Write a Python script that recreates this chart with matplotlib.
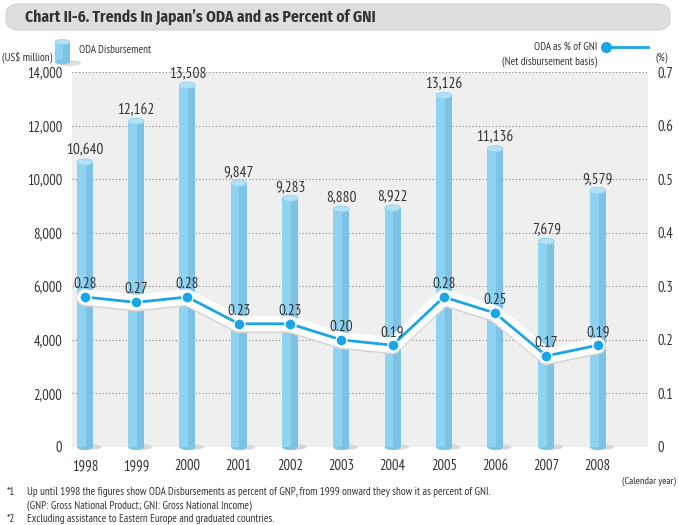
import numpy as np
import matplotlib.pyplot as plt
from matplotlib.patches import Ellipse, FancyBboxPatch, Rectangle

plt.rcParams['font.family'] = ['PT Sans Narrow', 'DejaVu Sans']

years = ['1998', '1999', '2000', '2001', '2002', '2003', '2004', '2005', '2006', '2007', '2008']
oda = [10640, 12162, 13508, 9847, 9283, 8880, 8922, 13126, 11136, 7679, 9579]
pct = [0.28, 0.27, 0.28, 0.23, 0.23, 0.20, 0.19, 0.28, 0.25, 0.17, 0.19]
pct_labels = ['0.28', '0.27', '0.28', '0.23', '0.23', '0.20', '0.19', '0.28', '0.25', '0.17', '0.19']

W, H = 679, 525
txt = '#333333'
fig = plt.figure(figsize=(W / 100, H / 100), dpi=100)
fig.patch.set_facecolor('white')

# title box
tb = FancyBboxPatch((6 / W, 1 - 30 / H), 664 / W, 26 / H, boxstyle='round,pad=0,rounding_size=0.02',
                    transform=fig.transFigure, facecolor='#dedede', edgecolor='#d0d0d0', lw=0.8)
fig.patches.append(tb)
fig.text(25 / W, 1 - 17 / H, "Chart II-6. Trends In Japan\u2019s ODA and as Percent of GNI",
         fontsize=11.2, fontweight='bold', color=txt, va='center', family=['Fira Sans Condensed', 'DejaVu Sans'])

ax = fig.add_axes([72 / W, 1 - 447 / H, 576 / W, 375 / H])
ax.set_facecolor('#efefef')
x = np.arange(len(years))
ax.set_xlim(-0.25, 10.98)
ax.set_ylim(0, 14000)
for s in ax.spines.values():
    s.set_visible(False)
ax.set_yticks(np.arange(0, 14001, 2000))
ax.set_yticklabels(['0'] + ['{:,}'.format(v) for v in range(2000, 14001, 2000)])
ax.tick_params(axis='y', length=0, pad=7, labelsize=10.5, labelcolor=txt)
ax.set_xticks(x)
ax.set_xticklabels(years)
ax.tick_params(axis='x', length=0, pad=9, labelsize=10.5, labelcolor=txt)
ax.grid(axis='y', linestyle=(0, (1, 2)), color='#888888', lw=0.8)
ax.set_axisbelow(True)

bw = 0.31
eh = 230
for xi, v in zip(x, oda):
    ax.add_patch(Ellipse((xi + 0.12, 0), bw * 1.3, eh * 0.9, facecolor='#d8d8d8', edgecolor='none',
                         zorder=2, clip_on=False))
    ax.add_patch(Ellipse((xi, 0), bw, eh, facecolor='#7fc4e6', edgecolor='none', zorder=3, clip_on=False))
    ax.add_patch(Rectangle((xi - bw / 2, 0), bw, v, facecolor='#8fd3f2', edgecolor='none', zorder=3))
    ax.add_patch(Rectangle((xi + bw * 0.05, 0), bw * 0.45, v, facecolor='#7dc2e4', edgecolor='none', zorder=3))
    ax.add_patch(Ellipse((xi, v), bw, eh, facecolor='#b3e2f7', edgecolor='#8fd3f2', lw=0.6, zorder=4))
    ax.text(xi, v + 170, '{:,}'.format(v), ha='center', va='bottom', fontsize=11, color=txt, zorder=5)

ax2 = ax.twinx()
ax2.set_ylim(0, 0.7)
for s in ax2.spines.values():
    s.set_visible(False)
ax2.set_yticks(np.arange(0, 0.71, 0.1))
ax2.set_yticklabels(['0', '0.1', '0.2', '0.3', '0.4', '0.5', '0.6', '0.7'])
ax2.tick_params(axis='y', length=0, pad=7, labelsize=10.5, labelcolor=txt)
ax2.plot(x, np.array(pct) - 0.0025, color='#d6d6d6', lw=11.5, solid_capstyle='round', solid_joinstyle='round',
         zorder=1)
ax2.plot(x, pct, color='white', lw=11, solid_capstyle='round', solid_joinstyle='round', zorder=2)
ax2.plot(x, pct, color='#1aa6e6', lw=2, marker='o', ms=8, mfc='#1aa6e6', mec='white', mew=1, zorder=3)
for xi, p, lab in zip(x, pct, pct_labels):
    ax2.text(xi, p + 0.011, lab, ha='center', va='bottom', fontsize=11, color=txt, zorder=5)

# axis captions
fig.text(2 / W, 1 - 58 / H, '(US$ million)', fontsize=8, color=txt, va='center')
fig.text(655 / W, 1 - 58 / H, '(%)', fontsize=8, color=txt, va='center')
fig.text(676 / W, 1 - 481 / H, '(Calendar year)', fontsize=7.5, color=txt, va='center', ha='right')

lax = fig.add_axes([0, 0, 1, 1], facecolor='none')
lax.set_xlim(0, W)
lax.set_ylim(H, 0)
lax.axis('off')

# legend: cylinder
lax.add_patch(Ellipse((70, 63), 22, 6, facecolor='#dddddd', edgecolor='none'))
lax.add_patch(Rectangle((55, 42), 15, 20, facecolor='#8fd3f2', edgecolor='none'))
lax.add_patch(Rectangle((63, 42), 7, 20, facecolor='#7dc2e4', edgecolor='none'))
lax.add_patch(Ellipse((62.5, 62), 15, 5, facecolor='#7dc2e4', edgecolor='none'))
lax.add_patch(Ellipse((62.5, 42), 15, 5, facecolor='#b3e2f7', edgecolor='#8fd3f2', lw=0.5))
lax.text(79, 50, 'ODA Disbursement', fontsize=8, color=txt, va='center')

# legend: line
lax.plot([606, 648], [47, 47], color='white', lw=7, solid_capstyle='round')
lax.plot([606, 648], [47, 47], color='#1aa6e6', lw=2)
lax.plot([606], [47], 'o', color='#1aa6e6', ms=7)
lax.text(597, 47, 'ODA as % of GNI', fontsize=8, color=txt, va='center', ha='right')
lax.text(597, 62, '(Net disbursement basis)', fontsize=8, color=txt, va='center', ha='right')

# footnotes
fn = 8.0
lax.text(7, 492, '*1', fontsize=fn, color=txt, va='center')
lax.text(27, 492, 'Up until 1998 the figures show ODA Disbursements as percent of GNP, from 1999 onward they show it as percent of GNI.',
         fontsize=fn, color=txt, va='center')
lax.text(27, 506, '(GNP: Gross National Product; GNI: Gross National Income)', fontsize=fn, color=txt, va='center')
lax.text(7, 519, '*2', fontsize=fn, color=txt, va='center')
lax.text(27, 519, 'Excluding assistance to Eastern Europe and graduated countries.', fontsize=fn, color=txt,
         va='center')

fig.savefig('out.png', dpi=100)
